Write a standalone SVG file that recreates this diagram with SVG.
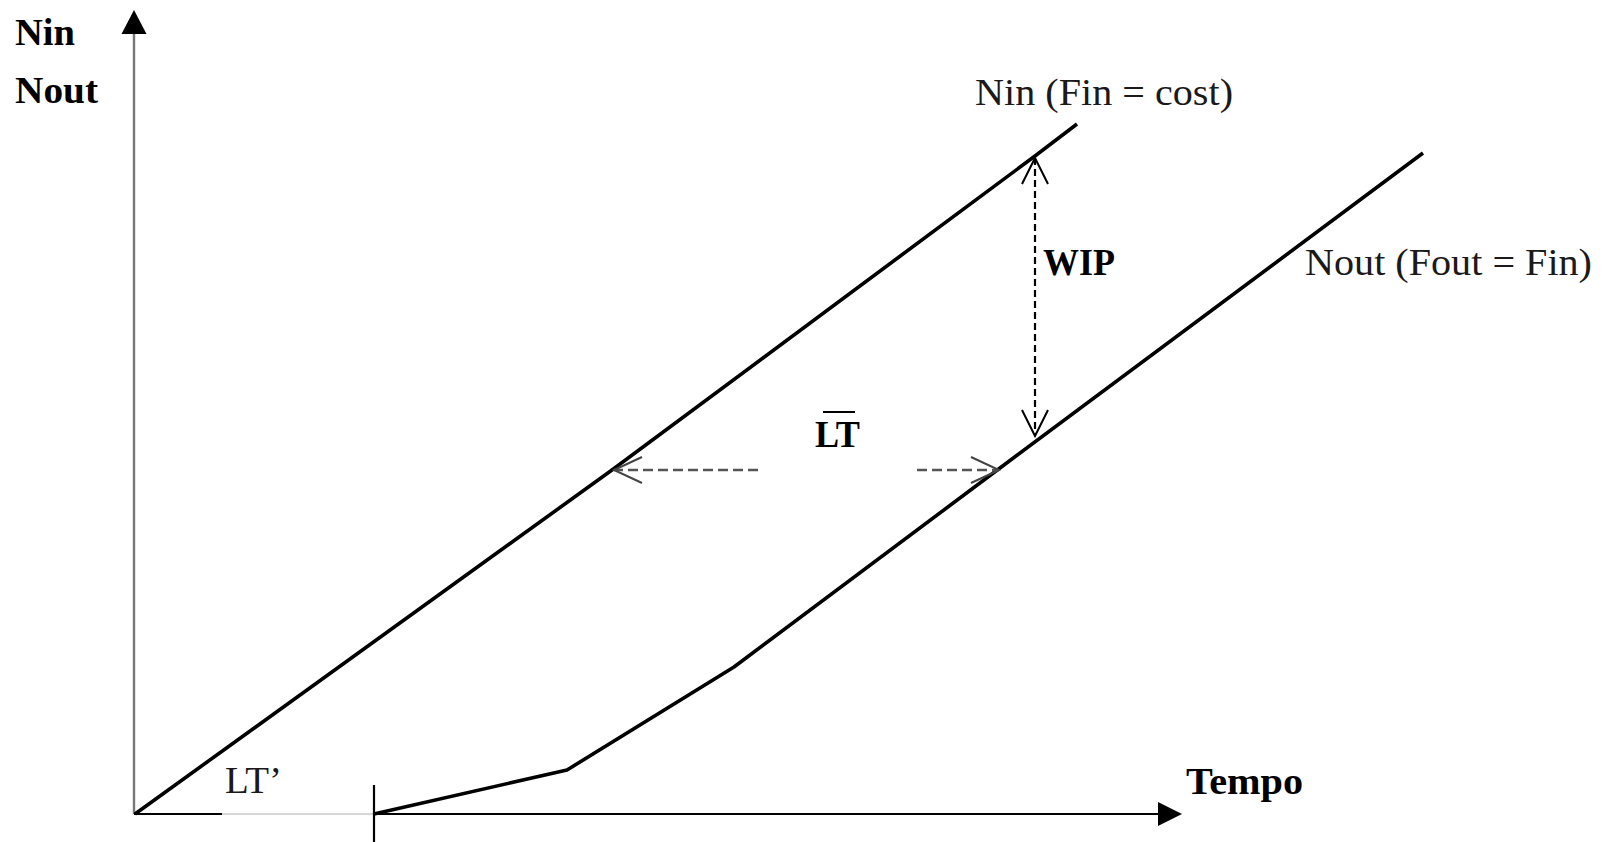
<svg xmlns="http://www.w3.org/2000/svg" width="1606" height="842" viewBox="0 0 1606 842">
<style>
.lbl{font-family:"Liberation Serif","Times New Roman",serif;font-size:37px;fill:#1a1a1a}
.b{font-weight:bold;fill:#000}
.curve{fill:none;stroke:#000;stroke-width:3.6;stroke-linejoin:round}
.axis{fill:none;stroke:#000;stroke-width:2.2}
</style>
<defs>
<marker id="openB" markerUnits="userSpaceOnUse" markerWidth="40" markerHeight="40" viewBox="-30 -20 40 40" refX="0" refY="0" orient="auto-start-reverse">
<path d="M-26,-13 L0,0 L-26,13" fill="none" stroke="#000" stroke-width="2"/>
</marker>
<marker id="openG" markerUnits="userSpaceOnUse" markerWidth="40" markerHeight="40" viewBox="-30 -20 40 40" refX="0" refY="0" orient="auto-start-reverse">
<path d="M-28,-13 L0,0 L-28,13" fill="none" stroke="#444" stroke-width="2"/>
</marker>
</defs>
<rect width="1606" height="842" fill="#fff"/>
<g id="axes">
<line x1="134" y1="814" x2="134" y2="30" stroke="#777" stroke-width="2.4"/>
<polygon points="134,10 121.5,34 146.5,34" fill="#000"/>
<line x1="134" y1="814" x2="222" y2="814" class="axis"/>
<line x1="222" y1="814" x2="374" y2="814" stroke="#d6d6d6" stroke-width="2"/>
<line x1="374" y1="814" x2="1162" y2="814" class="axis"/>
<polygon points="1182,814 1158,802 1158,826" fill="#000"/>
<line x1="374" y1="785" x2="374" y2="842" stroke="#000" stroke-width="2.2"/>
</g>
<g id="connectors">
<polyline id="nin-line" class="curve" points="135,814 612,470 1035,156 1077,124"/>
<polyline id="nout-line" class="curve" points="374,814 567,770 734,667 1000,468 1423,153"/>
<line id="wip-arrow" x1="1035" y1="158" x2="1035" y2="436" stroke="#000" stroke-width="2.2" stroke-dasharray="7,4" marker-start="url(#openB)" marker-end="url(#openB)"/>
<line id="lt-left" x1="758" y1="470" x2="614" y2="470" stroke="#555" stroke-width="2.6" stroke-dasharray="10,5" marker-end="url(#openG)"/>
<line id="lt-right" x1="917" y1="470" x2="999" y2="470" stroke="#555" stroke-width="2.6" stroke-dasharray="10,5" marker-end="url(#openG)"/>
</g>
<g id="labels">
<text class="lbl b" x="15" y="45" textLength="60" lengthAdjust="spacingAndGlyphs">Nin</text>
<text class="lbl b" x="15" y="103" textLength="83" lengthAdjust="spacingAndGlyphs">Nout</text>
<text class="lbl" x="975" y="105" textLength="258" lengthAdjust="spacingAndGlyphs">Nin (Fin = cost)</text>
<text class="lbl b" x="1043" y="275" textLength="72" lengthAdjust="spacingAndGlyphs">WIP</text>
<text class="lbl" x="1305" y="275" textLength="287" lengthAdjust="spacingAndGlyphs">Nout (Fout = Fin)</text>
<text class="lbl b" x="815" y="447" textLength="45" lengthAdjust="spacingAndGlyphs">LT</text>
<line x1="823" y1="412" x2="855" y2="412" stroke="#000" stroke-width="2"/>
<text class="lbl" x="225" y="793" textLength="57" lengthAdjust="spacingAndGlyphs">LT’</text>
<text class="lbl b" x="1186" y="794" textLength="117" lengthAdjust="spacingAndGlyphs">Tempo</text>
</g>
</svg>
